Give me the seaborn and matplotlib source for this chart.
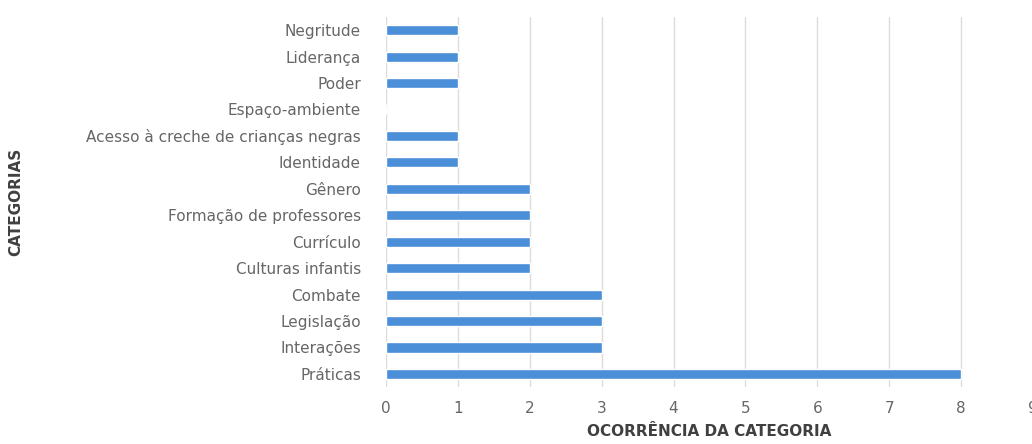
import matplotlib
matplotlib.use("Agg")
import matplotlib.pyplot as plt
import seaborn as sns
import pandas as pd

categorias = ["Negritude", "Liderança", "Poder", "Espaço-ambiente",
              "Acesso à creche de crianças negras", "Identidade", "Gênero",
              "Formação de professores", "Currículo", "Culturas infantis",
              "Combate", "Legislação", "Interações", "Práticas"]
ocorrencias = [1, 1, 1, 0, 1, 1, 2, 2, 2, 2, 3, 3, 3, 8]

df = pd.DataFrame({"categoria": categorias, "ocorrencia": ocorrencias})

sns.set_style("white")
plt.rcParams["font.family"] = ["DejaVu Sans"]

fig = plt.figure(figsize=(10.32, 4.44), dpi=100)
ax = fig.add_axes([0.374, 0.128, 0.627, 0.834])
sns.barplot(data=df, x="ocorrencia", y="categoria", color="#4a8fd8",
            width=0.38, saturation=1, ax=ax)

ax.set_xlim(0, 9)
ax.set_xticks(range(0, 10))
ax.grid(axis="x", color="#dcdcdc", linewidth=1)
ax.set_axisbelow(True)
for s in ax.spines.values():
    s.set_visible(False)
ax.tick_params(axis="both", length=0, colors="#666666", labelsize=11)
ax.tick_params(axis="y", pad=18)
ax.tick_params(axis="x", pad=10)
ax.set_xlabel("OCORRÊNCIA DA CATEGORIA", fontsize=11, color="#404040",
              fontweight="bold", labelpad=6)
ax.set_ylabel("CATEGORIAS", fontsize=11, color="#404040", fontweight="bold")
ax.yaxis.set_label_coords(-0.56, 0.5)

fig.savefig("out.png", dpi=100)
